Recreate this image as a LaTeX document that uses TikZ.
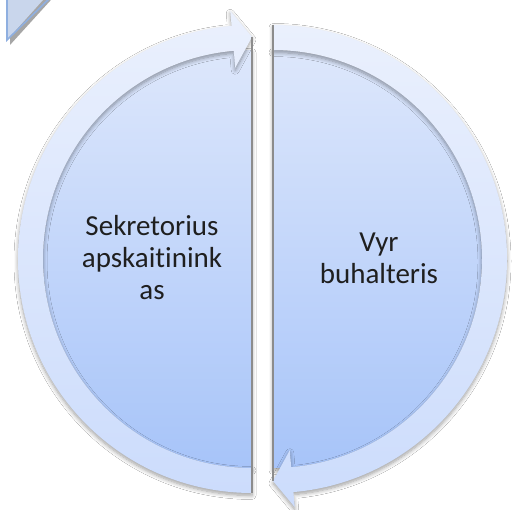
\documentclass[tikz,border=0pt]{standalone}
\usepackage{fontspec}
\setmainfont{Carlito}[Ligatures=NoCommon]
\usetikzlibrary{shadows.blur}
\definecolor{bandtop}{HTML}{EAF0FD}
\definecolor{bandbot}{HTML}{CCDCFC}
\definecolor{intop}{HTML}{DDE7FB}
\definecolor{inbot}{HTML}{A7C4F9}
\definecolor{tlfill}{HTML}{C9D6EC}
\definecolor{tlborder}{HTML}{8FAFE0}
\tikzset{
  sh/.style={blur shadow={shadow xshift=0pt, shadow yshift=-2.5pt, shadow blur radius=4pt, shadow blur steps=8, shadow opacity=38}},
  innerpart/.style={top color=intop, bottom color=inbot, sh},
  bandpart/.style={top color=bandtop, bottom color=bandbot, sh},
  edgeline/.style={draw=black!45, line width=1.1pt},
  txt/.style={align=center, font=\fontsize{29}{32}\selectfont, text=black!88, inner sep=0pt}
}
\begin{document}
\begin{tikzpicture}[x=1pt,y=1pt]
\useasboundingbox (0,0) rectangle (514,510);
\fill[white] (0,0) rectangle (514,510);
\coordinate (L) at (252,251);
\coordinate (R) at (273,251);

% top-left fragment
\fill[black!35] (10,520) -- (10,465) -- (60,520) -- cycle;
\fill[tlfill] (7,520) -- (7,470) -- (52,520) -- cycle;
\draw[tlborder, line width=1.6pt] (7,520) -- (7,470) -- (52,514);

% left piece
\path[innerpart] (L) ++(0,209) arc[start angle=90,end angle=270,radius=209] -- cycle;
\path[bandpart] (L) ++(270:234) arc[start angle=270,end angle=95,radius=234]
  -- ([shift={(95:249)}]L) -- ([shift={(90:222)}]L) -- ([shift={(95:192)}]L)
  -- ([shift={(95:209)}]L) arc[start angle=95,end angle=270,radius=209] -- cycle;
\draw[edgeline] ([shift={(90:222)}]L) -- ([shift={(270:234)}]L);

% right piece
\path[innerpart] (R) ++(0,209) arc[start angle=90,end angle=-90,radius=209] -- cycle;
\path[bandpart] (R) ++(90:234) arc[start angle=90,end angle=-85,radius=234]
  -- ([shift={(-85:249)}]R) -- ([shift={(-90:222)}]R) -- ([shift={(-85:192)}]R)
  -- ([shift={(-85:209)}]R) arc[start angle=-85,end angle=90,radius=209] -- cycle;
\draw[edgeline] ([shift={(90:234)}]R) -- ([shift={(-90:222)}]R);

\node[txt] (t1) at (152,252) {Sekretorius\\apskait\kern0pt inink\\as};
\node[txt] (t2) at (379,252) {Vyr\\buhalteris};
\end{tikzpicture}
\end{document}
